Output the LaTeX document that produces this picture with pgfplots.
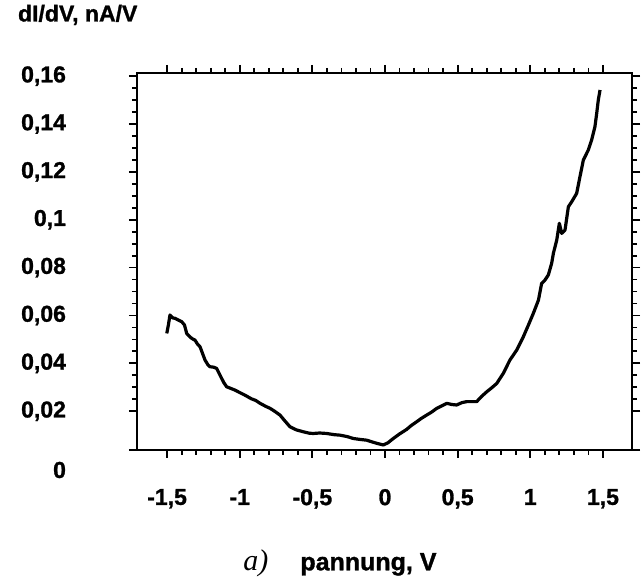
\documentclass[border=0pt]{standalone}
\usepackage{pgfplots}
\pgfplotsset{compat=1.18}
\usepackage{fontspec}
\setmainfont{Liberation Sans}
\newfontfamily\heavy[BoldFont={Liberation Sans Bold}, BoldFeatures={FakeBold=1.2}]{Liberation Sans}
\newfontfamily\serifit{Liberation Serif}
\begin{document}
\begin{tikzpicture}
\useasboundingbox (-68.5pt,-65.5pt) rectangle (252.5pt,225pt);
\begin{axis}[
  at={(0,0)}, anchor=south west,
  width=247.5pt, height=188.5pt, scale only axis,
  xmin=-1.707, xmax=1.70, ymin=0.0038, ymax=0.1613,
  axis line style={line width=1.4pt},
  tick align=outside, tick pos=both,
  every tick/.style={black, line width=0.9pt},
  major tick length=4pt, minor tick length=2.5pt,
  xtick={-1.5,-1,-0.5,0,0.5,1,1.5},
  xticklabels={-1{,}5,-1,-0{,}5,0,0{,}5,1,1{,}5},
  ytick={0.02,0.04,0.06,0.08,0.1,0.12,0.14,0.16},
  yticklabels={{0,02},{0,04},{0,06},{0,08},{0,1},{0,12},{0,14},{0,16}},
  extra y ticks={0.0038}, extra y tick labels={0},
  extra y tick style={yticklabel style={yshift=-10pt}},
  minor x tick num=4, minor y tick num=3,
  ticklabel style={font=\heavy\fontsize{11.5}{13}\selectfont\bfseries},
  yticklabel style={anchor=east, xshift=-28pt},
  xticklabel style={anchor=north, yshift=-12pt},
  every axis y label/.style={at={(axis description cs:-0.2545,1.154)}, anchor=west},
  every axis x label/.style={at={(axis description cs:0.41,-0.30)}, anchor=center},
  ylabel={\heavy\fontsize{11.5}{13}\selectfont\bfseries dI/dV, nA/V},
  xlabel={{\serifit\itshape\fontsize{15}{17}\selectfont a)}\hspace{16pt}{\heavy\fontsize{12.5}{14}\selectfont\bfseries pannung, V}},
]
\addplot[black, line width=1.6pt, line join=round] coordinates {
(-1.502,0.0525) (-1.491,0.056) (-1.480,0.0602) (-1.462,0.0590) (-1.445,0.0588)
(-1.420,0.0580) (-1.399,0.0574) (-1.380,0.0560) (-1.365,0.0525) (-1.350,0.0515)
(-1.330,0.0504) (-1.308,0.0497) (-1.290,0.0480) (-1.273,0.0469) (-1.255,0.0440)
(-1.239,0.0414) (-1.220,0.0395) (-1.205,0.0386) (-1.180,0.0384) (-1.159,0.0379)
(-1.136,0.0351) (-1.110,0.0320) (-1.090,0.0302) (-1.060,0.0295) (-1.032,0.0288)
(-1.000,0.0278) (-0.964,0.0267) (-0.920,0.0252) (-0.890,0.0245) (-0.860,0.0233)
(-0.820,0.0220) (-0.791,0.0212) (-0.760,0.0200) (-0.723,0.0184) (-0.690,0.0160)
(-0.654,0.0135) (-0.610,0.0122) (-0.562,0.0114) (-0.520,0.0108) (-0.493,0.0107)
(-0.450,0.0109) (-0.401,0.0107) (-0.350,0.0102) (-0.310,0.0100) (-0.260,0.0094)
(-0.218,0.0086) (-0.170,0.0082) (-0.126,0.0079) (-0.090,0.0072) (-0.057,0.0066)
(-0.012,0.0059) (0.020,0.0068) (0.057,0.0086) (0.100,0.0105) (0.149,0.0124)
(0.180,0.0140) (0.218,0.0156) (0.250,0.0170) (0.287,0.0184) (0.320,0.0196)
(0.356,0.0212) (0.390,0.0222) (0.425,0.0233) (0.460,0.0228) (0.493,0.0226)
(0.530,0.0236) (0.562,0.0240) (0.600,0.0240) (0.631,0.0240) (0.665,0.0262)
(0.700,0.0281) (0.735,0.0298) (0.769,0.0316) (0.814,0.0358) (0.860,0.0414)
(0.906,0.0455) (0.952,0.0511) (0.987,0.0560) (1.021,0.0609) (1.056,0.0664)
(1.078,0.0734) (1.101,0.0748) (1.124,0.0769) (1.147,0.0818) (1.159,0.0860)
(1.182,0.0915) (1.200,0.0985) (1.216,0.0943) (1.239,0.0957) (1.262,0.1054)
(1.285,0.1075) (1.319,0.1110) (1.342,0.1180) (1.365,0.1249) (1.399,0.1291)
(1.422,0.1333) (1.445,0.1389) (1.457,0.1444) (1.468,0.1500) (1.480,0.1542)
};
\end{axis}
\end{tikzpicture}
\end{document}
